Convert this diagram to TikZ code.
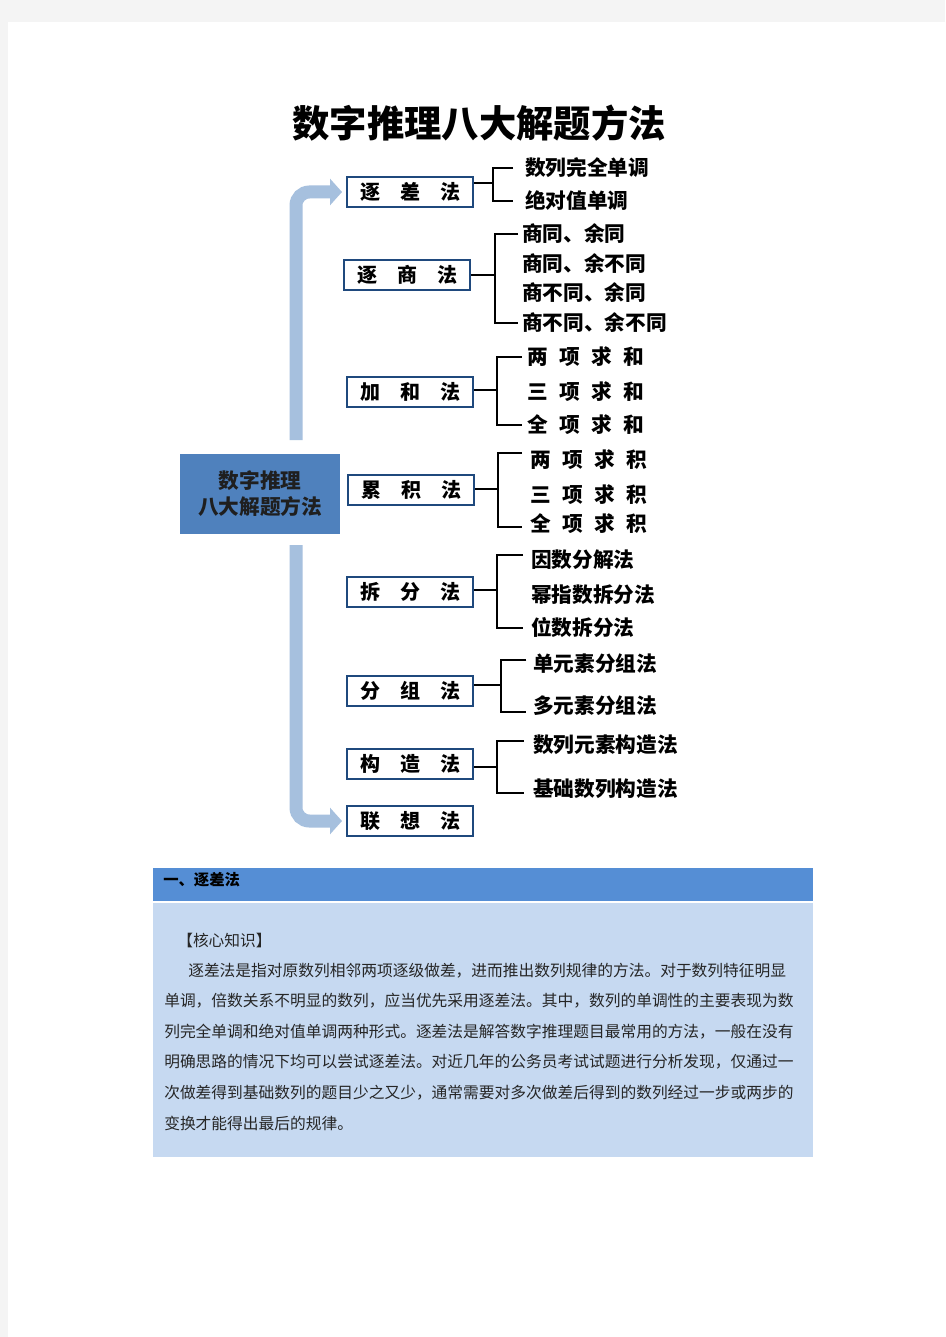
\documentclass[tikz,border=0pt]{standalone}
\usepackage{fontspec}
\newfontfamily\cjk{Noto Sans CJK SC}
\usetikzlibrary{arrows.meta}
\definecolor{pagegray}{RGB}{244,244,244}
\definecolor{boxblue}{RGB}{31,73,125}
\definecolor{centerblue}{RGB}{79,129,189}
\definecolor{bandblue}{RGB}{166,192,222}
\definecolor{headblue}{RGB}{85,142,213}
\definecolor{lightblue}{RGB}{198,217,241}
\begin{document}
\begin{tikzpicture}[x=0.75pt,y=-0.75pt,
  method/.style={draw=boxblue, line width=1.9pt, fill=white, minimum width=94.5pt, minimum height=22.5pt, inner sep=0pt, font=\cjk\bfseries\fontsize{15}{15}\selectfont},
  item/.style={anchor=west, inner sep=0pt, font=\cjk\bfseries\fontsize{15.5}{16}\selectfont},
  brk/.style={line width=1.5pt, draw=black},
  band/.style={draw=bandblue, line width=9.75pt, rounded corners=10pt, -{Triangle[width=19.5pt,length=9pt]}},
  para/.style={anchor=west, inner sep=0pt, font=\cjk\fontsize{11.8}{12}\selectfont, text=black!85}]
\useasboundingbox (0,0) rectangle (945,1337);
\fill[pagegray] (0,0) rectangle (945,1337);
\fill[white] (8,22) rectangle (945,1337);

% title
\node[font=\cjk\bfseries\fontsize{28}{28}\selectfont] (title) at (479,123) {数字推理八大解题方法};

% central box
\node[fill=centerblue, minimum width=120pt, minimum height=60pt, inner sep=0pt, align=center,
      font=\cjk\bfseries\fontsize{15.5}{19.5}\selectfont, text=black!88] (center) at (260,494) {数字推理\\八大解题方法};

% big arrows
\coordinate (s1) at (296,440);
\coordinate (e1) at (342,192);
\coordinate (s2) at (296,545);
\coordinate (e2) at (342,821);
\draw[band] (s1) |- (e1);
\draw[band] (s2) |- (e2);

% method boxes
\node[method] (m1) at (410,192) {逐\hspace{1em}差\hspace{1em}法};
\node[method] (m2) at (407,275) {逐\hspace{1em}商\hspace{1em}法};
\node[method] (m3) at (410,392) {加\hspace{1em}和\hspace{1em}法};
\node[method] (m4) at (411,490) {累\hspace{1em}积\hspace{1em}法};
\node[method] (m5) at (410,592) {拆\hspace{1em}分\hspace{1em}法};
\node[method] (m6) at (410,691) {分\hspace{1em}组\hspace{1em}法};
\node[method] (m7) at (410,764) {构\hspace{1em}造\hspace{1em}法};
\node[method] (m8) at (410,821) {联\hspace{1em}想\hspace{1em}法};

% items
\node[item] (i11) at (525,168) {数列完全单调};
\node[item] (i12) at (525,201) {绝对值单调};

\node[item] (i21) at (522,234) {商同、余同};
\node[item] (i22) at (522,264) {商同、余不同};
\node[item] (i23) at (522,293) {商不同、余同};
\node[item] (i24) at (522,323) {商不同、余不同};

\node[item] (i31) at (527,357) {两\hspace{0.55em}项\hspace{0.55em}求\hspace{0.55em}和};
\node[item] (i32) at (527,392) {三\hspace{0.55em}项\hspace{0.55em}求\hspace{0.55em}和};
\node[item] (i33) at (527,425) {全\hspace{0.55em}项\hspace{0.55em}求\hspace{0.55em}和};

\node[item] (i41) at (530,460) {两\hspace{0.55em}项\hspace{0.55em}求\hspace{0.55em}积};
\node[item] (i42) at (530,495) {三\hspace{0.55em}项\hspace{0.55em}求\hspace{0.55em}积};
\node[item] (i43) at (530,524) {全\hspace{0.55em}项\hspace{0.55em}求\hspace{0.55em}积};

\node[item] (i51) at (531,560) {因数分解法};
\node[item] (i52) at (531,595) {幂指数拆分法};
\node[item] (i53) at (531,628) {位数拆分法};

\node[item] (i61) at (533,664) {单元素分组法};
\node[item] (i62) at (533,706) {多元素分组法};

\node[item] (i71) at (533,745) {数列元素构造法};
\node[item] (i72) at (533,789) {基础数列构造法};

% bracket junctions
\coordinate (b1) at (493,183);
\coordinate (b2) at (495,275);
\coordinate (b3) at (497,390);
\coordinate (b4) at (498,489);
\coordinate (b5) at (497,590);
\coordinate (b6) at (501,685);
\coordinate (b7) at (497,767);

\draw[brk] (m1.east |- b1) -- (b1);
\draw[brk] ([xshift=-9pt]i11.west) -| (b1) |- ([xshift=-9pt]i12.west);
\draw[brk] (m2.east |- b2) -- (b2);
\draw[brk] ([xshift=-3pt]i21.west) -| (b2) |- ([xshift=-3pt]i24.west);
\draw[brk] (m3.east |- b3) -- (b3);
\draw[brk] ([xshift=-4pt]i31.west) -| (b3) |- ([xshift=-4pt]i33.west);
\draw[brk] (m4.east |- b4) -- (b4);
\draw[brk] ([xshift=-6pt,yshift=5pt]i41.west) -| (b4) |- ([xshift=-6pt,yshift=-2pt]i43.west);
\draw[brk] (m5.east |- b5) -- (b5);
\draw[brk] ([xshift=-6pt,yshift=3.5pt]i51.west) -| (b5) |- ([xshift=-6pt]i53.west);
\draw[brk] (m6.east |- b6) -- (b6);
\draw[brk] ([xshift=-5pt,yshift=3pt]i61.west) -| (b6) |- ([xshift=-5pt,yshift=-4.5pt]i62.west);
\draw[brk] (m7.east |- b7) -- (b7);
\draw[brk] ([xshift=-7pt,yshift=3pt]i71.west) -| (b7) |- ([xshift=-7pt,yshift=-3pt]i72.west);

% bottom section
\fill[headblue] (153,868) rectangle (813,901);
\fill[lightblue] (153,903) rectangle (813,1157);
\node[anchor=west, inner sep=0pt, font=\cjk\bfseries\fontsize{11.5}{12}\selectfont] (head) at (163,880) {一、逐差法};
\node[para] (p0) at (177,941) {【核心知识】};
\node[para] (p1) at (188,971) {逐差法是指对原数列相邻两项逐级做差，进而推出数列规律的方法。对于数列特征明显};
\node[para] (p2) at (164,1001) {单调，倍数关系不明显的数列，应当优先采用逐差法。其中，数列的单调性的主要表现为数};
\node[para] (p3) at (164,1032) {列完全单调和绝对值单调两种形式。逐差法是解答数字推理题目最常用的方法，一般在没有};
\node[para] (p4) at (164,1062) {明确思路的情况下均可以尝试逐差法。对近几年的公务员考试试题进行分析发现，仅通过一};
\node[para] (p5) at (164,1093) {次做差得到基础数列的题目少之又少，通常需要对多次做差后得到的数列经过一步或两步的};
\node[para] (p6) at (164,1123) {变换才能得出最后的规律。};
\end{tikzpicture}
\end{document}
